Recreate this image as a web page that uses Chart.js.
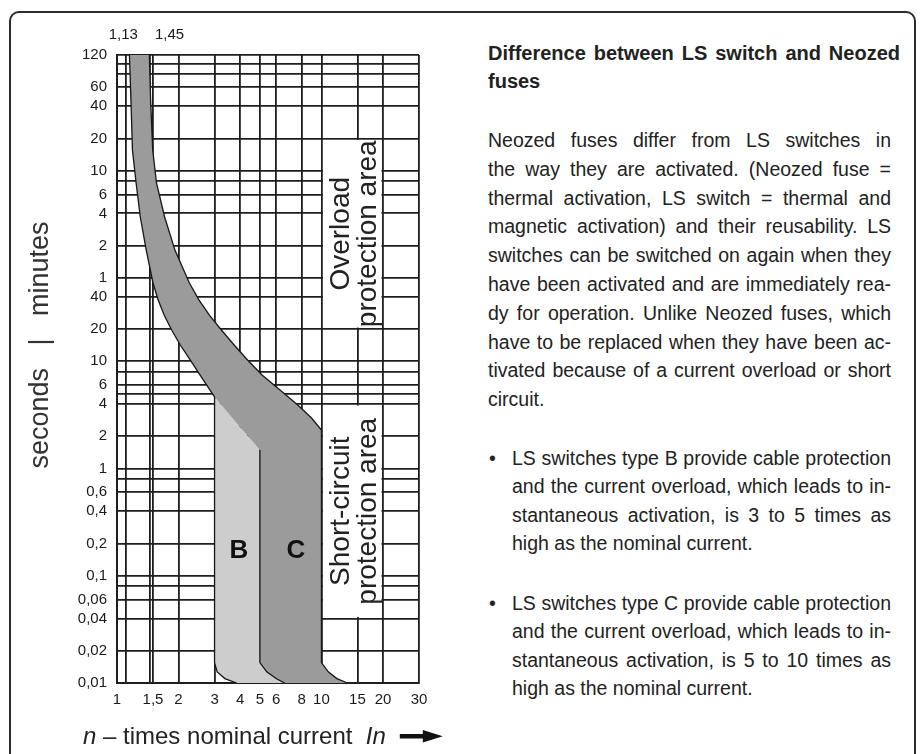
<!DOCTYPE html>
<html>
<head>
<meta charset="utf-8">
<script src="https://cdn.jsdelivr.net/npm/chart.js@4.4.1/dist/chart.umd.min.js"></script>
<style>
  html, body { margin: 0; padding: 0; background: #fff; }
  body { width: 922px; height: 754px; position: relative; overflow: hidden;
         font-family: "Liberation Sans", Arial, sans-serif; color: #222; }
  .frame { position: absolute; left: 9px; top: 11px; width: 903px; height: 800px;
           border: 2.5px solid #2b2b2b; border-radius: 10px; }
  #trip { position: absolute; left: 0; top: 0; }
  .txt { position: absolute; left: 488px; width: 403px; font-size: 19.5px; line-height: 28.8px; }
  .txt span { display: block; white-space: nowrap; text-align: justify; text-align-last: justify; }
  .txt span.end { text-align-last: left; }
  .title { top: 39px; width: 412px; font-weight: bold; font-size: 20px; line-height: 28px; }
  .para { top: 126px; }
  .bullet { left: 512px; width: 379px; line-height: 28.4px; }
  .dot { position: absolute; left: -23px; top: 0; }
</style>
</head>
<body>
<div class="frame"></div>
<canvas id="trip" width="470" height="754"></canvas>

<div class="txt title">
  <span>Difference between LS switch and Neozed</span>
  <span class="end">fuses</span>
</div>

<div class="txt para">
  <span>Neozed fuses differ from LS switches in</span>
  <span>the way they are activated. (Neozed fuse =</span>
  <span>thermal activation, LS switch = thermal and</span>
  <span>magnetic activation) and their reusability. LS</span>
  <span>switches can be switched on again when they</span>
  <span>have been activated and are immediately rea-</span>
  <span>dy for operation. Unlike Neozed fuses, which</span>
  <span>have to be replaced when they have been ac-</span>
  <span>tivated because of a current overload or short</span>
  <span class="end">circuit.</span>
</div>

<div class="txt bullet" style="top:444px">
  <div class="dot">•</div>
  <span>LS switches type B provide cable protection</span>
  <span>and the current overload, which leads to in-</span>
  <span>stantaneous activation, is 3 to 5 times as</span>
  <span class="end">high as the nominal current.</span>
</div>

<div class="txt bullet" style="top:589px">
  <div class="dot">•</div>
  <span>LS switches type C provide cable protection</span>
  <span>and the current overload, which leads to in-</span>
  <span>stantaneous activation, is 5 to 10 times as</span>
  <span class="end">high as the nominal current.</span>
</div>

<script>
// x = multiple of nominal current, y = tripping time in seconds
const xGrid = [1, 1.1, 1.45, 1.5, 2, 3, 4, 5, 6, 8, 10, 15, 20, 30];
const xGridLabels = ['1', '', '', '1,5', '2', '3', '4', '5', '6', '8', '10', '15', '20', '30'];
const topMarks = [1.13, 1.45];
const topMarkLabels = ['1,13', '1,45'];

const yGrid = [0.01, 0.02, 0.04, 0.06, 0.08, 0.1, 0.2, 0.4, 0.6, 0.8, 1, 2, 4, 5, 6, 8, 10, 20, 40,
  60, 120, 240, 360, 480, 600, 1200, 2400, 3600, 4800, 6000, 7200];
const yGridLabels = ['0,01', '0,02', '0,04', '0,06', '', '0,1', '0,2', '0,4', '0,6', '', '1', '2', '4', '', '6', '', '10', '20', '40',
  '1', '2', '4', '6', '', '10', '20', '40', '60', '', '', '120'];

// thermal band, lower edge (goes on into type B below 3 x In)
const bandLowI = [1.15, 1.17, 1.19, 1.24, 1.30, 1.39, 1.50, 1.59, 1.70, 1.85, 2.04, 2.28, 2.55, 2.85, 3.0];
const bandLowT = [7200, 2740, 936, 461, 222, 109, 53.8, 37.3, 27, 19.6, 14.2, 10.3, 7.45, 5.4, 4.65];
// thermal band, upper edge
const bandHighI = [1.44, 1.46, 1.495, 1.56, 1.71, 1.92, 2.26, 2.52, 2.83, 3.24, 3.74, 4.35, 5.12, 6.27, 7.68, 8.94, 10];
const bandHighT = [7200, 2740, 936, 461, 222, 109, 53.8, 37.3, 27, 19.6, 14.2, 10.3, 7.45, 5.4, 3.9, 2.96, 2.29];
// lower edge between 3 and 5 x In (type B)
const diagI = [3.0, 3.85, 5.0];
const diagT = [4.65, 2.64, 1.49];
// rounded foot of the magnetic trip at 3, 5 and 10 x In
const footT = [0.0155, 0.0127, 0.011, 0.01];
const footB = [3, 3.09, 3.37, 3.85];
const footM = [5, 5.4, 6.0, 6.6];
const footC = [10, 10.8, 11.9, 13.4];

const typeLabels = ['B', 'C'];
const areaLabels = [['Overload', 'protection area'], ['Short-circuit', 'protection area']];

const pts = (xs, ts) => xs.map((v, i) => ({ x: v, y: ts[i] }));
const low = pts(bandLowI, bandLowT);
const high = pts(bandHighI, bandHighT);
const diag = pts(diagI, diagT);
const fB = pts(footB, footT);
const fM = pts(footM, footT);
const fC = pts(footC, footT);

const darkShape = [...high, ...fC, ...fM.slice().reverse(), ...diag.slice().reverse(), ...low.slice().reverse()];
const lightShape = [...diag, ...fM, ...fB.slice().reverse()];

const FONT = '"Liberation Sans", Arial, sans-serif';
Chart.defaults.font.family = FONT;
Chart.defaults.color = '#1a1a1a';

function outline(data) {
  return { data: data, showLine: true, fill: false, pointRadius: 0, borderColor: '#161616', borderWidth: 1.3 };
}

const textLayer = {
  id: 'textLayer',
  afterDatasetsDraw(chart) {
    const { ctx, scales: { x, y } } = chart;
    ctx.save();

    // white boxes with the area names
    const boxes = [[10, 20, 1200, 20], [10, 20, 4, 0.04]];
    boxes.forEach((b, i) => {
      const l = x.getPixelForValue(b[0]) + 1.5, r = x.getPixelForValue(b[1]) - 1.5;
      const t = y.getPixelForValue(b[2]) + 1.5, bt = y.getPixelForValue(b[3]) - 1.5;
      ctx.fillStyle = '#fff';
      ctx.fillRect(l, t, r - l, bt - t);
      ctx.save();
      ctx.translate((l + r) / 2, (t + bt) / 2);
      ctx.rotate(-Math.PI / 2);
      ctx.font = '28px ' + FONT;
      ctx.fillStyle = '#222';
      ctx.textAlign = 'center';
      ctx.textBaseline = 'alphabetic';
      ctx.fillText(areaLabels[i][0], 0, -3);
      ctx.fillText(areaLabels[i][1], 0, 24);
      ctx.restore();
    });

    // B / C
    ctx.font = 'bold 26px ' + FONT;
    ctx.fillStyle = '#111';
    ctx.textAlign = 'center';
    ctx.textBaseline = 'middle';
    ctx.fillText(typeLabels[0], x.getPixelForValue(3.95), y.getPixelForValue(0.17));
    ctx.fillText(typeLabels[1], x.getPixelForValue(7.5), y.getPixelForValue(0.17));
    ctx.restore();
  },
  afterDraw(chart) {
    const { ctx, chartArea: a, scales: { x } } = chart;
    ctx.save();
    ctx.fillStyle = '#1a1a1a';

    // 1,13 / 1,45 above the plot
    ctx.font = '15px ' + FONT;
    ctx.textBaseline = 'middle';
    ctx.textAlign = 'right';
    ctx.fillText(topMarkLabels[0], x.getPixelForValue(topMarks[0]) + 10, a.top - 20);
    ctx.textAlign = 'left';
    ctx.fillText(topMarkLabels[1], x.getPixelForValue(topMarks[1]) + 5, a.top - 20);

    // y title
    ctx.save();
    ctx.translate(48, 345);
    ctx.rotate(-Math.PI / 2);
    ctx.font = '27px ' + FONT;
    ctx.fillStyle = '#333';
    ctx.textAlign = 'center';
    ctx.textBaseline = 'alphabetic';
    ctx.fillText('seconds   |   minutes', 0, 0);
    ctx.restore();

    // x title with arrow
    const parts = [['n', 'italic'], [' \u2013 times nominal current  ', 'normal'], ['In', 'italic']];
    let px = a.left - 34;
    const py = 744;
    ctx.fillStyle = '#222';
    ctx.textAlign = 'left';
    ctx.textBaseline = 'alphabetic';
    parts.forEach(p => {
      ctx.font = p[1] + ' 24px ' + FONT;
      ctx.fillText(p[0], px, py);
      px += ctx.measureText(p[0]).width;
    });
    const ax = px + 14;
    ctx.fillStyle = '#111';
    ctx.fillRect(ax, 734, 26, 4.5);
    ctx.beginPath();
    ctx.moveTo(ax + 23, 730);
    ctx.lineTo(ax + 43, 736.2);
    ctx.lineTo(ax + 23, 742.4);
    ctx.closePath();
    ctx.fill();
    ctx.restore();
  }
};

new Chart(document.getElementById('trip'), {
  type: 'scatter',
  data: {
    datasets: [
      outline([...low, ...fB]),
      outline([...high, ...fC]),
      outline([diag[diag.length - 1], ...fM]),
      { data: darkShape, showLine: true, fill: 'shape', pointRadius: 0, borderWidth: 0,
        borderColor: 'rgba(0,0,0,0)', backgroundColor: '#9b9b9b' },
      { data: lightShape, showLine: true, fill: 'shape', pointRadius: 0, borderWidth: 0,
        borderColor: 'rgba(0,0,0,0)', backgroundColor: '#cdcdcd' }
    ]
  },
  options: {
    responsive: false,
    animation: false,
    events: [],
    layout: { padding: { top: 55, right: 51, left: 0, bottom: 0 } },
    plugins: { legend: { display: false }, tooltip: { enabled: false } },
    scales: {
      x: {
        type: 'logarithmic',
        min: 1,
        max: 30,
        afterBuildTicks: s => { s.ticks = xGrid.map(v => ({ value: v })); },
        afterFit: s => { s.height = 71; },
        ticks: {
          autoSkip: false,
          maxRotation: 0,
          padding: 8,
          font: { size: 15 },
          callback: (v, i) => xGridLabels[i]
        },
        grid: { color: '#1e1e1e', lineWidth: 1.8, drawTicks: false },
        border: { color: '#1e1e1e', width: 2 }
      },
      y: {
        type: 'logarithmic',
        min: 0.01,
        max: 7200,
        afterBuildTicks: s => { s.ticks = yGrid.map(v => ({ value: v })); },
        afterFit: s => { s.width = 117; },
        ticks: {
          autoSkip: false,
          padding: 10,
          font: { size: 15 },
          callback: (v, i) => yGridLabels[i]
        },
        grid: { color: '#1e1e1e', lineWidth: 1.8, drawTicks: false },
        border: { color: '#1e1e1e', width: 2 }
      }
    }
  },
  plugins: [textLayer]
});
</script>
</body>
</html>
